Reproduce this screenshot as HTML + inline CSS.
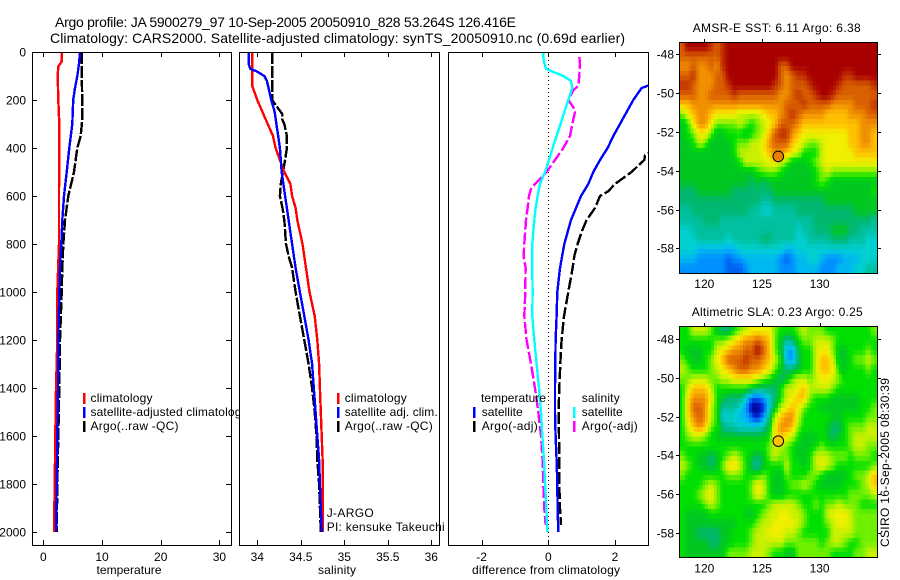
<!DOCTYPE html>
<html lang="en">
<head>
<meta charset="utf-8">
<title>Argo profile chart</title>
<style>
html,body{margin:0;padding:0;background:#fff;}
svg{display:block;}
text{font-family:"Liberation Sans",sans-serif;font-size:12px;fill:#000;}
</style>
</head>
<body>
<svg id="chart" xmlns="http://www.w3.org/2000/svg" width="900" height="580" viewBox="0 0 900 580"></svg>
<script>
/* ---------- tick labels ---------- */
const depthTicks = [0,200,400,600,800,1000,1200,1400,1600,1800,2000];
const tempTicks = [0,10,20,30];
const salTicks = [34,34.5,35,35.5,36];
const salTickLabels = ['34','34.5','35','35.5','36'];
const diffTicks = [-2,0,2];
const lonTicks = [120,125,130];
const latTicks = [-48,-50,-52,-54,-56,-58];

/* ---------- temperature panel ---------- */
const tempClimDepth = [0,40,60,100,200,300,400,600,800,1000,1200,1400,1600,1800,2000];
const tempClimValues = [3.13,3.13,2.56,2.45,2.56,2.73,2.73,2.67,2.67,2.39,2.39,2.16,2.05,1.94,1.82];
const tempSatDepth = [0,50,100,150,200,300,400,500,600,700,800,900,1000,1200,1400,1600,1800,2000];
const tempSatValues = [6.25,6.08,5.8,5.4,5.1,4.94,4.43,3.98,3.53,3.24,3.07,2.85,2.73,2.56,2.5,2.39,2.28,2.16];
const tempArgoDepth = [0,100,200,280,350,400,500,600,700,800,900,1000,1200,1400,1600,1800,2000];
const tempArgoValues = [6.54,6.54,6.65,6.65,6.37,5.8,5.23,4.26,3.7,3.4,3.24,3.13,2.85,2.73,2.56,2.39,2.28];

/* ---------- salinity panel ---------- */
const salClimDepth = [0,50,100,140,200,250,300,350,400,450,500,550,600,650,700,800,900,1000,1100,1200,1300,1400,1500,1600,1700,1800,2000];
const salClimValues = [33.94,33.94,33.94,33.94,34.0,34.06,34.12,34.18,34.21,34.26,34.31,34.38,34.40,34.44,34.46,34.52,34.56,34.60,34.66,34.69,34.71,34.72,34.73,34.74,34.75,34.75,34.755];
const salSatDepth = [0,50,70,80,100,120,150,200,250,300,350,400,450,500,550,600,650,700,800,900,1000,1100,1200,1300,1400,1500,1600,1700,1800,2000];
const salSatValues = [33.90,33.90,33.92,33.99,34.08,34.11,34.13,34.16,34.2,34.22,34.24,34.26,34.27,34.28,34.30,34.32,34.34,34.36,34.40,34.44,34.49,34.54,34.59,34.63,34.65,34.67,34.69,34.71,34.72,34.74];
const salArgoDepth = [0,100,150,200,240,260,280,300,350,400,450,490,550,600,650,700,800,850,900,1000,1100,1200,1300,1400,1500,1600,1700,1800,2000];
const salArgoValues = [34.17,34.17,34.17,34.17,34.25,34.29,34.285,34.31,34.34,34.34,34.32,34.30,34.27,34.26,34.29,34.31,34.33,34.36,34.40,34.44,34.49,34.54,34.59,34.63,34.66,34.68,34.69,34.71,34.73];

/* ---------- difference panel ---------- */
const diffTempSatDepth = [0,100,140,150,200,250,300,350,400,450,500,550,600,650,700,800,900,1000,1100,1200,1300,1400,1500,1600,1700,1800,1900,2000];
const diffTempSatValues = [3.1,3.3,3.0,2.8,2.55,2.35,2.15,1.95,1.78,1.55,1.35,1.2,0.98,0.83,0.68,0.48,0.35,0.27,0.25,0.22,0.21,0.2,0.2,0.22,0.25,0.27,0.28,0.3];
const diffTempArgoDepth = [400,430,450,480,500,520,550,580,600,650,700,750,800,850,900,1000,1100,1200,1300,1400,1500,1600,1700,1800,1900,1970];
const diffTempArgoValues = [3.3,2.9,2.88,2.65,2.5,2.3,2.0,1.8,1.55,1.4,1.15,1.0,0.88,0.78,0.73,0.6,0.47,0.4,0.36,0.33,0.31,0.32,0.33,0.33,0.35,0.38];
const diffSalSatDepth = [0,20,40,70,80,100,120,150,200,250,300,350,400,450,500,550,600,650,700,800,900,1000,1100,1200,1300,1400,1500,1600,1700,1800,1900,2000];
const diffSalSatValues = [-0.15,-0.15,-0.13,-0.07,0.1,0.45,0.68,0.72,0.6,0.48,0.37,0.25,0.13,0.02,-0.1,-0.25,-0.32,-0.38,-0.42,-0.48,-0.48,-0.47,-0.48,-0.42,-0.35,-0.28,-0.22,-0.18,-0.13,-0.1,-0.06,-0.03];
const diffSalArgoDepth = [20,50,100,140,160,200,230,250,300,350,400,450,500,550,570,600,650,700,800,850,900,1000,1100,1200,1300,1400,1500,1600,1700,1800,1900,1970];
const diffSalArgoValues = [0.93,0.95,0.93,0.9,0.75,0.6,0.75,0.8,0.72,0.65,0.45,0.2,-0.05,-0.4,-0.52,-0.58,-0.62,-0.67,-0.72,-0.74,-0.68,-0.69,-0.72,-0.65,-0.52,-0.4,-0.3,-0.22,-0.17,-0.15,-0.12,-0.08];

/* ---------- map data: colour-scale levels ---------- */
const argoLon = 126.416;
const argoLat = -53.264;
const sstArgoLevel = 14.3;
const slaArgoLevel = 13;
const sstCells = [
[15,17,17,17,17,16,15,16,17,17,17,17,17,17,17,17,17,17,17,17,17,17,17,17,17,17,17,17,17,17,17,17,17,17],
[15,15,15,15,15,15,15,16,17,17,17,17,17,17,17,17,17,17,17,17,17,17,17,17,17,17,17,17,17,17,17,17,17,17],
[14,14,15,14,14,15,14,16,17,17,17,17,17,17,17,17,17,15,15,17,17,17,17,17,17,17,17,17,17,17,17,17,17,17],
[15,15,16,14,14,14,15,15,17,17,17,17,17,17,17,17,17,15,14,15,16,16,17,17,17,17,17,17,16,16,17,17,17,17],
[16,16,15,14,14,14,15,15,16,17,17,17,17,17,17,17,16,15,14,15,15,15,16,17,17,17,17,16,15,15,15,15,15,16],
[15,15,15,14,14,15,15,15,15,16,15,15,15,15,15,15,15,14,14,15,16,15,15,16,17,17,16,15,15,15,15,15,15,15],
[13,13,14,14,14,14,14,14,14,14,14,14,14,14,14,14,14,14,15,15,15,16,15,15,15,15,14,14,14,14,15,15,15,16],
[10,12,13,14,14,13,12,12,12,12,11,11,11,11,12,13,13,14,15,16,15,14,14,14,14,13,13,13,13,14,14,14,15,15],
[8,9,12,14,14,12,10,10,10,10,11,10,9,10,11,12,13,15,15,15,14,13,13,13,13,13,13,13,13,13,13,14,14,14],
[8,9,10,12,12,10,8,8,9,9,9,8,9,10,11,13,15,16,16,14,13,12,12,12,12,12,12,12,12,13,13,14,14,13],
[8,8,9,11,10,8,8,8,8,9,10,10,11,11,12,14,15,15,15,13,12,11,10,10,11,12,12,12,12,13,13,14,14,13],
[8,8,8,8,8,8,8,8,8,9,11,11,11,11,12,13,14,14,13,12,11,9,9,9,11,12,12,12,12,12,13,13,13,13],
[8,8,8,8,8,8,8,8,8,8,9,11,11,11,11,12,12,11,10,8,8,8,9,10,11,12,12,12,12,12,12,12,12,12],
[8,8,8,8,8,8,8,8,8,8,8,8,8,9,10,10,10,9,8,8,8,8,8,9,10,11,10,10,10,10,10,10,10,10],
[8,8,8,8,8,8,8,8,8,8,8,8,7,8,7,8,8,8,8,8,8,8,8,9,10,9,8,8,8,8,8,8,8,8],
[7,7,7,8,8,8,8,8,8,7,7,7,7,7,7,7,8,8,8,8,8,8,8,8,8,8,8,8,8,8,8,8,8,9],
[7,7,7,7,7,7,7,7,7,7,7,7,7,7,6,6,7,7,7,7,7,7,7,7,7,8,8,8,8,8,8,8,8,8],
[6,6,7,7,7,7,7,7,7,7,7,7,6,6,5,5,6,6,6,6,7,7,7,7,7,7,7,7,7,7,8,8,8,8],
[6,6,6,6,7,7,7,6,6,6,6,6,6,6,6,6,6,6,6,6,6,6,6,7,7,7,7,7,7,7,7,7,7,6],
[5,5,6,6,6,6,6,6,6,6,6,6,6,6,6,6,6,6,6,6,5,6,6,7,7,7,8,8,8,7,7,6,6,6],
[5,5,5,6,6,6,6,6,5,6,6,6,6,6,7,7,6,6,6,6,5,5,6,6,6,6,7,7,7,6,6,6,5,5],
[5,5,5,4,4,4,4,4,4,4,5,5,5,5,5,5,5,5,4,4,5,5,5,5,5,5,5,5,5,5,5,5,5,5],
[4,4,4,3,3,3,3,3,2,3,3,4,4,4,4,4,4,3,2,3,4,4,5,5,4,3,3,3,4,4,4,5,5,5],
[3,3,3,3,3,3,3,3,2,2,2,3,4,4,4,4,4,3,3,3,4,4,4,4,3,3,3,4,4,4,5,5,6,6]
];
const slaCells = [
[9,9,11,11,11,10,8,7,7,9,10,11,12,12,12,12,10,9,9,9,10,11,10,10,10,9,9,9,9,9,9,9,9,10],
[9,9,9,9,9,9,10,10,11,12,13,14,14,15,14,13,10,8,6,7,9,10,10,11,11,11,10,9,9,9,9,9,9,9],
[9,8,8,8,9,9,11,12,13,14,14,15,15,17,15,13,10,8,4,3,8,9,9,11,12,12,10,8,8,9,9,9,10,9],
[10,9,8,8,9,10,12,13,15,15,15,16,15,15,14,13,11,9,4,3,7,9,9,11,13,13,11,8,8,9,10,10,11,10],
[11,10,9,9,9,10,11,12,13,14,15,15,14,14,13,12,10,8,7,7,8,9,9,11,13,13,12,9,8,9,9,9,10,9],
[10,10,11,11,11,10,10,11,11,12,12,12,12,11,10,9,8,7,8,10,11,11,10,11,12,12,11,10,9,9,9,9,9,9],
[9,11,13,13,13,11,9,9,9,9,9,9,8,7,7,7,7,9,11,11,12,13,11,11,11,11,10,9,9,9,9,9,9,9],
[9,12,14,14,14,12,9,8,7,7,7,5,2,2,3,5,7,9,11,12,13,13,10,9,9,9,8,8,8,8,8,9,9,9],
[9,12,15,15,14,11,9,6,6,6,5,3,0,0,1,5,8,11,12,13,12,10,9,9,8,8,8,8,8,8,8,9,9,10],
[9,12,14,15,14,11,9,5,5,5,4,4,2,1,3,7,11,13,14,14,11,9,9,9,9,9,8,8,9,9,9,9,10,10],
[9,11,13,14,13,10,9,7,6,6,5,5,5,5,6,8,12,14,14,13,10,9,9,9,9,8,7,7,9,10,10,10,11,11],
[9,10,11,11,10,9,8,8,8,8,8,8,8,8,8,9,12,13,12,11,9,8,8,8,9,8,7,8,9,10,11,11,11,11],
[9,9,9,9,9,9,9,9,9,9,9,9,9,9,9,10,11,11,10,9,8,8,8,9,10,9,9,9,9,10,11,11,10,10],
[10,9,9,8,8,7,8,9,10,11,10,9,8,7,8,10,11,10,10,9,8,8,9,11,11,11,10,10,10,9,10,10,10,9],
[11,10,9,8,8,7,8,10,12,13,11,9,7,6,8,9,9,9,11,9,9,8,9,11,12,11,10,9,9,9,9,9,9,10],
[10,9,9,9,9,9,9,9,10,10,10,9,9,9,10,9,8,8,10,9,9,9,10,10,9,8,8,8,8,9,10,10,11,13],
[9,9,9,9,10,11,10,9,9,9,9,9,10,12,11,9,8,8,9,10,10,11,10,9,8,8,8,8,9,9,9,10,11,13],
[9,9,9,10,11,12,10,9,9,9,9,9,10,12,11,9,8,8,9,9,9,9,9,9,9,9,9,9,9,10,10,10,10,11],
[9,9,9,9,10,11,10,9,9,9,9,9,9,9,9,10,11,11,11,11,10,9,9,10,9,10,10,11,10,10,10,9,9,9],
[9,8,8,8,8,9,9,9,9,9,9,8,8,9,10,11,11,12,12,11,11,10,9,9,9,11,12,12,12,11,10,10,10,10],
[9,8,8,8,8,8,8,8,8,8,9,9,9,10,11,11,12,12,12,12,11,10,9,9,9,10,11,12,12,11,10,10,10,10],
[9,8,8,7,7,7,7,8,8,9,9,9,10,11,11,12,12,12,11,11,10,9,9,9,9,9,11,11,11,11,10,10,10,10],
[9,8,8,8,8,7,7,8,8,9,9,9,10,11,11,11,11,11,10,10,10,10,10,10,9,10,11,11,10,9,9,10,10,10],
[9,8,8,8,8,8,8,8,10,10,10,10,11,11,11,10,9,9,8,8,10,10,10,10,10,10,9,9,9,9,10,10,11,11]
];
const colourScale = ['#000080','#0020d0','#0060f0','#0090ff','#00b8f0','#00d0d0','#00c0a0','#00b870','#00c820','#00e000','#70f000','#c8f000','#f0f000','#ffc000','#f09000','#d86000','#c03000','#a80000'];

/* ---------- helpers ---------- */
const NS = 'http://www.w3.org/2000/svg';
const svg = document.getElementById('chart');
function make(tag, attrs, name, parent) {
  const el = document.createElementNS(NS, tag);
  for (const k in attrs) el.setAttribute(k, attrs[k]);
  
  
  (parent || svg).appendChild(el);
  return el;
}
function label(str, x, y, name, opts) {
  opts = opts || {};
  const a = {x: x, y: y, 'text-anchor': opts.anchor || 'start'};
  if (opts.width) { a.textLength = opts.width; a.lengthAdjust = 'spacing'; }
  if (opts.size) a.style = 'font-size:' + opts.size + 'px';
  if (opts.transform) a.transform = opts.transform;
  const t = make('text', a, name, opts.parent);
  t.textContent = str;
  return t;
}
const plotTop = 52, plotBottom = 545, pxPerDepth = 0.24;
const yDepth = d => plotTop + d * pxPerDepth;

function panel(key, left, right, xFn, xTicks, xLabels, xTitle, titleX, showDepth) {
  const g = make('g', {}, key + '-panel');
  make('rect', {x: left, y: plotTop, width: right - left, height: plotBottom - plotTop, fill: '#fff'}, key + '-plot-background', g);
  const clipId = 'clip-' + key;
  const cp = make('clipPath', {id: clipId}, key + '-clip', g);
  make('rect', {x: left, y: plotTop, width: right - left, height: plotBottom - plotTop}, key + '-clip-area', cp);
  const marks = make('g', {'clip-path': 'url(#' + clipId + ')'}, key + '-series', g);
  const frame = make('g', {'shape-rendering': 'crispEdges', stroke: '#000', 'stroke-width': 1, fill: 'none'}, key + '-axes', g);
  make('rect', {x: left + 0.5, y: plotTop + 0.5, width: right - left, height: plotBottom - plotTop}, key + '-frame', frame);
  xTicks.forEach((v, i) => {
    const x = Math.round(xFn(v)) + 0.5;
    make('line', {x1: x, x2: x, y1: plotBottom, y2: plotBottom - 5}, key + '-x-tick-bottom', frame);
    make('line', {x1: x, x2: x, y1: plotTop, y2: plotTop + 5}, key + '-x-tick-top', frame);
    label(xLabels[i], xFn(v), 561, key + '-x-tick-label', {anchor: 'middle', parent: g});
  });
  label(xTitle[0], titleX, 574, key + '-x-axis-title', {anchor: 'middle', width: xTitle[1], parent: g});
  if (showDepth) {
    depthTicks.forEach(d => {
      const y = Math.round(yDepth(d)) + 0.5;
      make('line', {x1: left, x2: left + 5, y1: y, y2: y}, key + '-y-tick-left', frame);
      make('line', {x1: right, x2: right - 5, y1: y, y2: y}, key + '-y-tick-right', frame);
      label(String(d), 26, Math.round(yDepth(d)) + 4.5, key + '-y-tick-label', {anchor: 'end', parent: g});
    });
  }
  return {g: g, marks: marks};
}
function series(parent, name, depths, values, xFn, colour, dash) {
  const pts = depths.map((d, i) => xFn(values[i]).toFixed(1) + ',' + yDepth(d).toFixed(1)).join(' ');
  const a = {points: pts, fill: 'none', stroke: colour, 'stroke-width': 2.4, 'shape-rendering': 'crispEdges'};
  if (dash) a['stroke-dasharray'] = dash;
  make('polyline', a, name, parent);
}
function swatch(parent, x, y, colour, name) {
  make('rect', {x: x, y: y, width: 2.5, height: 11, fill: colour}, name, parent);
}

/* ---------- titles ---------- */
label('Argo profile: JA 5900279_97 10-Sep-2005 20050910_828 53.264S 126.416E', 55, 27, 'figure-title-line-1', {size: 14, width: 461});
label('Climatology: CARS2000. Satellite-adjusted climatology: synTS_20050910.nc (0.69d earlier)', 50, 43, 'figure-title-line-2', {size: 14, width: 575});

/* ---------- temperature panel ---------- */
const xTemp = v => 43.3 + 5.87 * v;
const p1 = panel('temperature', 32, 231, xTemp, tempTicks, tempTicks.map(String), ['temperature', 65], 129, true);
series(p1.marks, 'temperature-argo-line', tempArgoDepth, tempArgoValues, xTemp, '#000', '12 2');
series(p1.marks, 'temperature-climatology-line', tempClimDepth, tempClimValues, xTemp, '#ff0000');
series(p1.marks, 'temperature-satellite-line', tempSatDepth, tempSatValues, xTemp, '#0000ff');
swatch(svg, 83, 393, '#ff0000', 'temperature-legend-climatology-swatch');
swatch(svg, 83, 407, '#0000ff', 'temperature-legend-satellite-swatch');
swatch(svg, 83, 421, '#000', 'temperature-legend-argo-swatch');
label('climatology', 90.5, 402, 'temperature-legend-climatology', {width: 62});
label('satellite-adjusted climatology', 90.5, 416, 'temperature-legend-satellite', {width: 157});
label('Argo(..raw -QC)', 90.5, 430, 'temperature-legend-argo', {width: 88});

/* ---------- salinity panel ---------- */
const xSal = v => 344.3 + 87 * (v - 35);
const p2 = panel('salinity', 239, 439, xSal, salTicks, salTickLabels, ['salinity', 38], 337, false);
series(p2.marks, 'salinity-argo-line', salArgoDepth, salArgoValues, xSal, '#000', '12 2');
series(p2.marks, 'salinity-climatology-line', salClimDepth, salClimValues, xSal, '#ff0000');
series(p2.marks, 'salinity-satellite-line', salSatDepth, salSatValues, xSal, '#0000ff');
swatch(svg, 337, 393, '#ff0000', 'salinity-legend-climatology-swatch');
swatch(svg, 337, 407, '#0000ff', 'salinity-legend-satellite-swatch');
swatch(svg, 337, 421, '#000', 'salinity-legend-argo-swatch');
label('climatology', 344.7, 402, 'salinity-legend-climatology', {width: 62});
label('satellite adj. clim.', 344.7, 416, 'salinity-legend-satellite', {width: 93});
label('Argo(..raw -QC)', 344.7, 430, 'salinity-legend-argo', {width: 88});
label('J-ARGO', 326.7, 517, 'data-centre-label', {width: 47});
label('PI: kensuke Takeuchi', 326.7, 531, 'principal-investigator-label', {width: 118});

/* ---------- difference panel ---------- */
const xDiff = v => 548.3 + 33.33 * v;
const p3 = panel('difference', 448, 648, xDiff, diffTicks, diffTicks.map(String), ['difference from climatology', 148], 546, false);
make('line', {x1: 548.5, x2: 548.5, y1: plotTop, y2: plotBottom, stroke: '#000', 'stroke-width': 1, 'stroke-dasharray': '1 3', 'shape-rendering': 'crispEdges'}, 'zero-reference-line', p3.marks);
series(p3.marks, 'difference-temperature-argo-line', diffTempArgoDepth, diffTempArgoValues, xDiff, '#000', '12 3');
series(p3.marks, 'difference-temperature-satellite-line', diffTempSatDepth, diffTempSatValues, xDiff, '#0000ff');
series(p3.marks, 'difference-salinity-argo-line', diffSalArgoDepth, diffSalArgoValues, xDiff, '#ff00ff', '12 3');
series(p3.marks, 'difference-salinity-satellite-line', diffSalSatDepth, diffSalSatValues, xDiff, '#00ffff');
label('temperature', 481, 402, 'difference-legend-temperature-heading', {width: 65});
swatch(svg, 473, 407, '#0000ff', 'difference-legend-temperature-satellite-swatch');
label('satellite', 481.7, 416, 'difference-legend-temperature-satellite', {width: 41});
swatch(svg, 473, 421, '#000', 'difference-legend-temperature-argo-swatch');
label('Argo(-adj)', 481.7, 430, 'difference-legend-temperature-argo', {width: 56});
label('salinity', 581.7, 402, 'difference-legend-salinity-heading', {width: 38});
swatch(svg, 573, 407, '#00ffff', 'difference-legend-salinity-satellite-swatch');
label('satellite', 581.7, 416, 'difference-legend-salinity-satellite', {width: 41});
swatch(svg, 573, 421, '#ff00ff', 'difference-legend-salinity-argo-swatch');
label('Argo(-adj)', 581.7, 430, 'difference-legend-salinity-argo', {width: 56});

/* ---------- maps ---------- */
function hexToRgb(h) {
  return [parseInt(h.substr(1, 2), 16), parseInt(h.substr(3, 2), 16), parseInt(h.substr(5, 2), 16)];
}
function levelColour(v) {
  const t = Math.max(0, Math.min(colourScale.length - 1, v));
  const i = Math.min(colourScale.length - 2, Math.floor(t));
  const f = t - i;
  const a = hexToRgb(colourScale[i]), b = hexToRgb(colourScale[i + 1]);
  return 'rgb(' + a.map((c, k) => Math.round(c + (b[k] - c) * f)).join(',') + ')';
}
function drawMap(key, cells, top, bottom, lat48y, argoLevel, title, titleX, titleW, lonLabelY) {
  const left = 679, right = 877;
  const g = make('g', {}, key + '-map');
  const nr = cells.length, nc = cells[0].length;
  const sub = 2;
  const cw = (right - left) / (nc * sub), ch = (bottom - top) / (nr * sub);
  const xLon = lon => 704.3 + (lon - 120) * 11.53;
  const yLat = lat => lat48y + (-48 - lat) * 19.4;
  const sample = (rf, cf) => {
    const r = Math.max(0, Math.min(nr - 1, rf)), c = Math.max(0, Math.min(nc - 1, cf));
    const r0 = Math.floor(r), c0 = Math.floor(c);
    const r1 = Math.min(nr - 1, r0 + 1), c1 = Math.min(nc - 1, c0 + 1);
    const fr = r - r0, fc = c - c0;
    return cells[r0][c0] * (1 - fr) * (1 - fc) + cells[r0][c1] * (1 - fr) * fc + cells[r1][c0] * fr * (1 - fc) + cells[r1][c1] * fr * fc;
  };
  const cellGroup = make('g', {'shape-rendering': 'crispEdges'}, key + '-heatmap-cells', g);
  for (let r = 0; r < nr * sub; r++) {
    for (let c = 0; c < nc * sub; c++) {
      const v = sample((r + 0.5) / sub - 0.5, (c + 0.5) / sub - 0.5);
      const cell = document.createElementNS(NS, 'rect');
      cell.setAttribute('x', (left + c * cw).toFixed(2));
      cell.setAttribute('y', (top + r * ch).toFixed(2));
      cell.setAttribute('width', (cw + 0.6).toFixed(2));
      cell.setAttribute('height', (ch + 0.6).toFixed(2));
      cell.setAttribute('fill', levelColour(v));
      
      
      cellGroup.appendChild(cell);
    }
  }
  const axes = make('g', {'shape-rendering': 'crispEdges', stroke: '#000', 'stroke-width': 1, fill: 'none'}, key + '-axes', g);
  make('rect', {x: left + 0.5, y: top + 0.5, width: right - left, height: bottom - top}, key + '-frame', axes);
  lonTicks.forEach(lon => {
    const x = Math.round(xLon(lon)) + 0.5;
    make('line', {x1: x, x2: x, y1: top, y2: top - 3}, key + '-lon-tick', axes);
    label(String(lon), xLon(lon), lonLabelY, key + '-lon-tick-label', {anchor: 'middle', parent: g});
  });
  latTicks.forEach(lat => {
    const y = Math.round(yLat(lat)) + 0.5;
    make('line', {x1: left, x2: left - 3, y1: y, y2: y}, key + '-lat-tick-left', axes);
    make('line', {x1: right + 1, x2: right + 4, y1: y, y2: y}, key + '-lat-tick-right', axes);
    label(String(lat), 674, y + 4, key + '-lat-tick-label', {anchor: 'end', parent: g});
  });
  make('circle', {cx: xLon(argoLon), cy: yLat(argoLat), r: 5.3, fill: levelColour(argoLevel), stroke: '#000', 'stroke-width': 1}, key + '-argo-position-marker', g);
  label(title, titleX, top - 10, key + '-map-title', {width: titleW, parent: g});
}
drawMap('sst', sstCells, 42, 273, 54.3, sstArgoLevel, 'AMSR-E SST: 6.11 Argo: 6.38', 692.7, 168, 288);
drawMap('sla', slaCells, 326, 557, 339, slaArgoLevel, 'Altimetric SLA: 0.23 Argo: 0.25', 691.7, 171, 572.7);

label('CSIRO 16-Sep-2005 08:30:39', 889, 547, 'generation-timestamp', {width: 169, transform: 'rotate(-90 889 547)'});
</script>
</body>
</html>
